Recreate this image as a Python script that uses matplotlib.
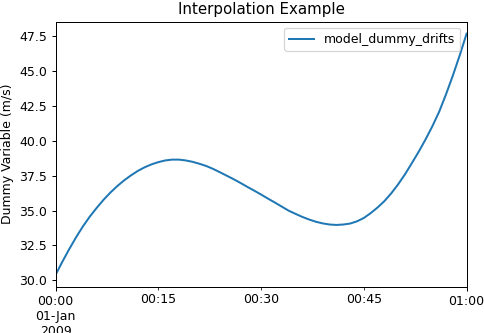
import pandas as pd
import matplotlib.pyplot as plt

# values, one per minute from 00:00 to 01:00
minutes = list(range(0, 61))
drifts = [30.40, 31.35, 32.25, 33.10, 33.88, 34.58, 35.20, 35.78, 36.30, 36.76,
          37.17, 37.53, 37.85, 38.11, 38.32, 38.48, 38.60, 38.66, 38.66, 38.60,
          38.50, 38.36, 38.20, 37.99, 37.75, 37.50, 37.25, 36.98, 36.70, 36.43,
          36.15, 35.86, 35.58, 35.29, 35.00, 34.77, 34.55, 34.36, 34.20, 34.08,
          34.00, 33.97, 34.00, 34.07, 34.23, 34.47, 34.82, 35.22, 35.68, 36.24,
          36.88, 37.60, 38.40, 39.22, 40.10, 41.05, 42.10, 43.35, 44.70, 46.15,
          47.70]

times = pd.Timestamp('2009-01-01') + pd.to_timedelta(minutes, unit='min')
df = pd.DataFrame({'model_dummy_drifts': drifts}, index=times)

fig = plt.figure(figsize=(484 / 90, 333 / 90), dpi=90)
ax = fig.add_axes([0.115, 0.139, 0.849, 0.796])
df.plot(ax=ax, color='#1f77b4', linewidth=1.6)

ax.set_title('Interpolation Example')
ax.set_ylabel('Dummy Variable (m/s)')
ax.set_xlabel('')
ax.legend(loc='upper right')

fig.savefig('out.png', dpi=90)
